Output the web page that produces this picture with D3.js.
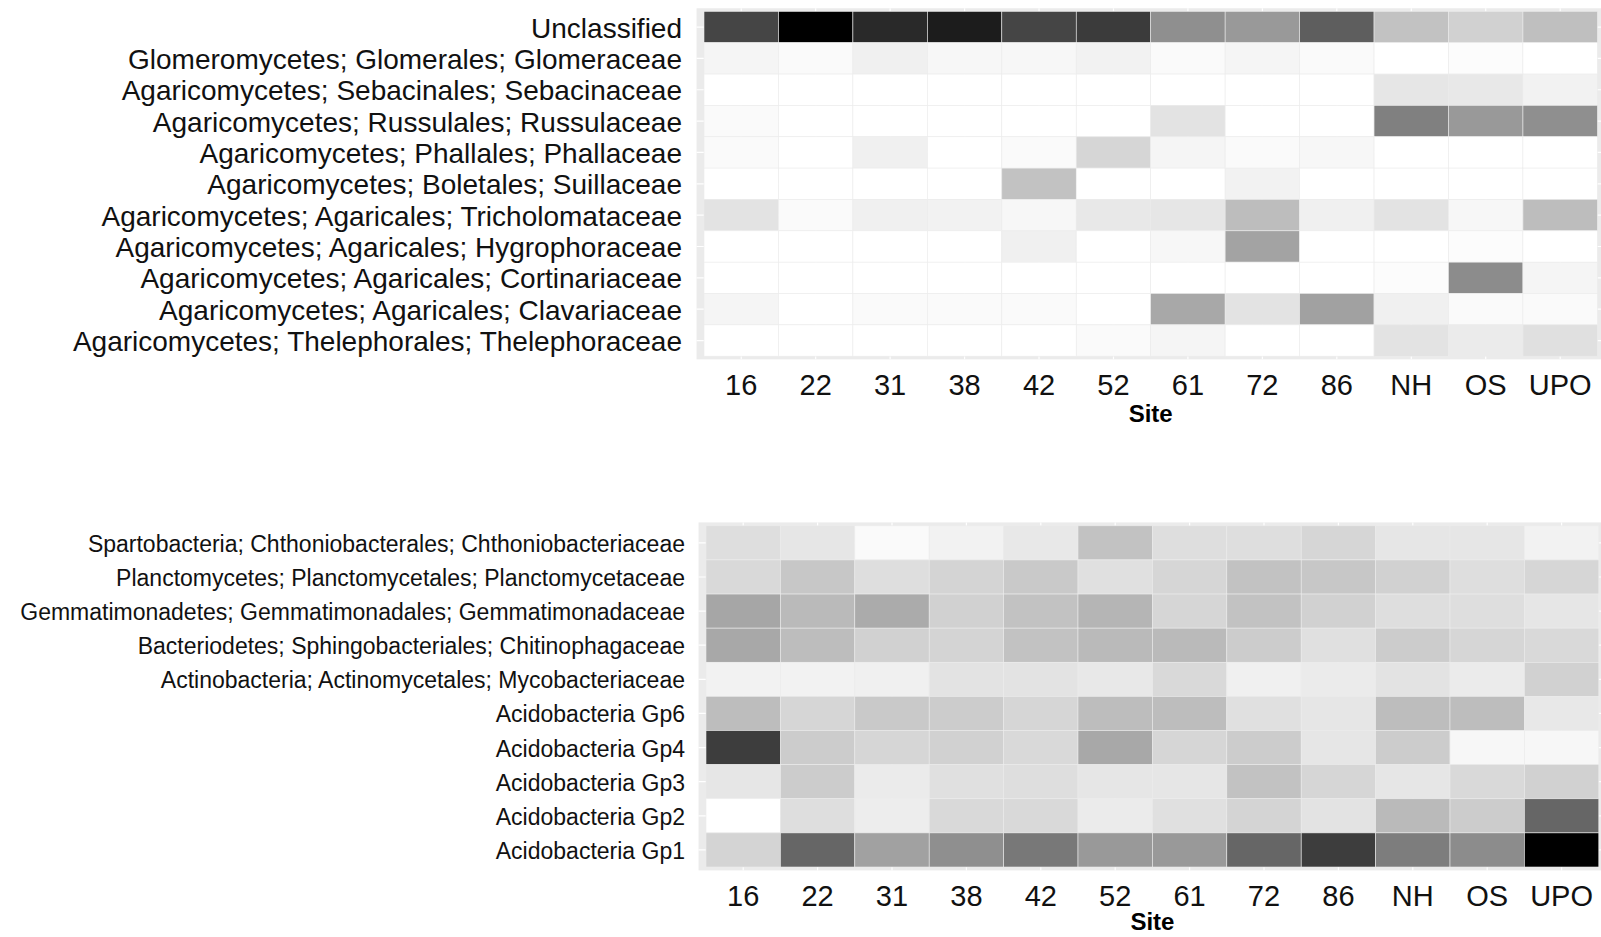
<!DOCTYPE html>
<html>
<head>
<meta charset="utf-8">
<script src="https://cdn.jsdelivr.net/npm/d3@7"></script>
<style>
  body { margin: 0; background: #fff; }
  svg { display: block; font-family: "Liberation Sans", Arial, sans-serif; }
</style>
</head>
<body>
<svg id="chart" width="1601" height="937"></svg>
<script>
// sites along the x axis (shared by both panels)
var sites = ["16", "22", "31", "38", "42", "52", "61", "72", "86", "NH", "OS", "UPO"];

// fungal families, top to bottom
var fungiTaxa = [
  "Unclassified",
  "Glomeromycetes; Glomerales; Glomeraceae",
  "Agaricomycetes; Sebacinales; Sebacinaceae",
  "Agaricomycetes; Russulales; Russulaceae",
  "Agaricomycetes; Phallales; Phallaceae",
  "Agaricomycetes; Boletales; Suillaceae",
  "Agaricomycetes; Agaricales; Tricholomataceae",
  "Agaricomycetes; Agaricales; Hygrophoraceae",
  "Agaricomycetes; Agaricales; Cortinariaceae",
  "Agaricomycetes; Agaricales; Clavariaceae",
  "Agaricomycetes; Thelephorales; Thelephoraceae"
];
// relative abundance (0..1), one row per taxon, columns follow sites
var fungiValues = [
  [0.73, 1.00, 0.84, 0.89, 0.73, 0.77, 0.44, 0.40, 0.63, 0.24, 0.18, 0.25],
  [0.04, 0.02, 0.06, 0.03, 0.03, 0.05, 0.02, 0.04, 0.02, 0.00, 0.01, 0.00],
  [0.00, 0.00, 0.00, 0.00, 0.00, 0.00, 0.00, 0.00, 0.00, 0.10, 0.09, 0.05],
  [0.02, 0.00, 0.00, 0.00, 0.00, 0.00, 0.11, 0.00, 0.00, 0.50, 0.40, 0.44],
  [0.02, 0.00, 0.06, 0.00, 0.02, 0.16, 0.04, 0.02, 0.03, 0.00, 0.00, 0.00],
  [0.00, 0.00, 0.00, 0.00, 0.24, 0.00, 0.00, 0.05, 0.00, 0.00, 0.00, 0.00],
  [0.11, 0.02, 0.06, 0.05, 0.03, 0.09, 0.10, 0.26, 0.06, 0.11, 0.03, 0.26],
  [0.00, 0.00, 0.00, 0.00, 0.06, 0.00, 0.03, 0.36, 0.00, 0.00, 0.01, 0.00],
  [0.00, 0.00, 0.00, 0.00, 0.00, 0.00, 0.00, 0.00, 0.00, 0.01, 0.45, 0.04],
  [0.04, 0.00, 0.02, 0.02, 0.02, 0.00, 0.34, 0.11, 0.37, 0.06, 0.02, 0.02],
  [0.00, 0.00, 0.00, 0.00, 0.00, 0.02, 0.04, 0.00, 0.00, 0.11, 0.08, 0.12]
];

// bacterial families, top to bottom
var bactTaxa = [
  "Spartobacteria; Chthoniobacterales; Chthoniobacteriaceae",
  "Planctomycetes; Planctomycetales; Planctomycetaceae",
  "Gemmatimonadetes; Gemmatimonadales; Gemmatimonadaceae",
  "Bacteriodetes; Sphingobacteriales; Chitinophagaceae",
  "Actinobacteria; Actinomycetales; Mycobacteriaceae",
  "Acidobacteria Gp6",
  "Acidobacteria Gp4",
  "Acidobacteria Gp3",
  "Acidobacteria Gp2",
  "Acidobacteria Gp1"
];
var bactValues = [
  [0.13, 0.10, 0.02, 0.05, 0.09, 0.24, 0.13, 0.13, 0.16, 0.10, 0.10, 0.05],
  [0.15, 0.22, 0.13, 0.17, 0.21, 0.12, 0.16, 0.24, 0.22, 0.18, 0.13, 0.16],
  [0.35, 0.27, 0.33, 0.18, 0.24, 0.29, 0.16, 0.24, 0.18, 0.13, 0.13, 0.10],
  [0.34, 0.26, 0.18, 0.17, 0.24, 0.27, 0.27, 0.20, 0.12, 0.20, 0.16, 0.15],
  [0.05, 0.05, 0.06, 0.11, 0.11, 0.09, 0.15, 0.06, 0.08, 0.11, 0.08, 0.18],
  [0.26, 0.16, 0.21, 0.20, 0.16, 0.26, 0.26, 0.12, 0.10, 0.26, 0.26, 0.09],
  [0.76, 0.20, 0.16, 0.18, 0.15, 0.34, 0.16, 0.20, 0.10, 0.20, 0.03, 0.03],
  [0.10, 0.20, 0.08, 0.12, 0.13, 0.10, 0.10, 0.24, 0.16, 0.10, 0.15, 0.18],
  [0.00, 0.13, 0.07, 0.15, 0.15, 0.08, 0.12, 0.17, 0.11, 0.27, 0.20, 0.60],
  [0.17, 0.60, 0.37, 0.44, 0.53, 0.40, 0.40, 0.60, 0.76, 0.51, 0.45, 1.00]
];

var svg = d3.select("#chart");

function drawHeatmap(taxa, values, box) {
    var x = d3.scaleBand().domain(sites).range([box.left, box.right]);
    var y = d3.scaleBand().domain(taxa).range([box.top, box.bottom]);
    var fill = d3.scaleLinear().domain([0, 1]).range(["#ffffff", "#000000"]);

    // ggplot-like discrete expansion: 0.1 of a cell on each side
    var ex = x.bandwidth() * 0.1, ey = y.bandwidth() * 0.1;
    var g = svg.append("g");

    g.append("rect")
        .attr("x", box.left - ex)
        .attr("y", box.top - ey)
        .attr("width", box.right - box.left + 2 * ex)
        .attr("height", box.bottom - box.top + 2 * ey)
        .attr("fill", "#ebebeb");

    // white grid lines (show only in the margin strip)
    g.selectAll(".vgrid").data(sites).enter().append("line")
        .attr("x1", d => x(d) + x.bandwidth() / 2)
        .attr("x2", d => x(d) + x.bandwidth() / 2)
        .attr("y1", box.top - ey).attr("y2", box.bottom + ey)
        .attr("stroke", "#fff").attr("stroke-width", 1.2);
    g.selectAll(".hgrid").data(taxa).enter().append("line")
        .attr("y1", d => y(d) + y.bandwidth() / 2)
        .attr("y2", d => y(d) + y.bandwidth() / 2)
        .attr("x1", box.left - ex).attr("x2", box.right + ex)
        .attr("stroke", "#fff").attr("stroke-width", 1.2);

    var cells = [];
    taxa.forEach(function(t, i) {
        sites.forEach(function(s, j) {
            cells.push({taxon: t, site: s, value: values[i][j]});
        });
    });

    g.selectAll(".tile").data(cells).enter().append("rect")
        .attr("x", d => x(d.site))
        .attr("y", d => y(d.taxon))
        .attr("width", x.bandwidth())
        .attr("height", y.bandwidth())
        .attr("fill", d => fill(d.value))
        .attr("stroke", "#ececec")
        .attr("stroke-width", 0.6);

    // y labels
    g.selectAll(".ylab").data(taxa).enter().append("text")
        .attr("x", box.labelX)
        .attr("y", d => y(d) + y.bandwidth() / 2 + 1)
        .attr("text-anchor", "end")
        .attr("dominant-baseline", "central")
        .attr("font-size", box.labelSize)
        .attr("fill", "#111")
        .text(d => d);

    // x tick labels
    var panelBottom = box.bottom + ey;
    g.selectAll(".xlab").data(sites).enter().append("text")
        .attr("x", d => x(d) + x.bandwidth() / 2)
        .attr("y", panelBottom + 36)
        .attr("text-anchor", "middle")
        .attr("font-size", 29)
        .attr("fill", "#111")
        .text(d => d);

    g.append("text")
        .attr("x", (box.left + box.right) / 2)
        .attr("y", panelBottom + box.titleGap)
        .attr("text-anchor", "middle")
        .attr("font-size", 24)
        .attr("font-weight", "bold")
        .attr("fill", "#000")
        .text("Site");
}

drawHeatmap(fungiTaxa, fungiValues,
    {left: 704, right: 1597.4, top: 11.4, bottom: 356.2, labelX: 682, labelSize: 28, titleGap: 63});
drawHeatmap(bactTaxa, bactValues,
    {left: 706, right: 1598.8, top: 525.8, bottom: 867, labelX: 685, labelSize: 23, titleGap: 60});
</script>
</body>
</html>
